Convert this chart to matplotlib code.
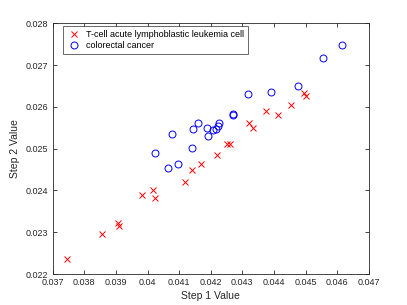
import matplotlib
matplotlib.use("Agg")
import matplotlib.pyplot as plt

plt.rcParams['font.family'] = ['Liberation Sans', 'DejaVu Sans']

red_x = [0.03744, 0.03857, 0.03908, 0.03910, 0.03984, 0.04016, 0.04024, 0.04119,
         0.04140, 0.04169, 0.04220, 0.04253, 0.04261, 0.04322, 0.04333, 0.04375,
         0.04412, 0.04453, 0.04495, 0.04502]
red_y = [0.02236, 0.02296, 0.02323, 0.02316, 0.02389, 0.02401, 0.02382, 0.02421,
         0.02450, 0.02463, 0.02484, 0.02510, 0.02510, 0.02561, 0.02550, 0.02589,
         0.02581, 0.02604, 0.02634, 0.02626]
blue_x = [0.04024, 0.04066, 0.04096, 0.04078, 0.04142, 0.04143, 0.04161, 0.04189,
          0.04192, 0.04208, 0.04216, 0.04223, 0.04227, 0.04270, 0.04271, 0.04319,
          0.04391, 0.04475, 0.04556, 0.04616]
blue_y = [0.02490, 0.02453, 0.02463, 0.02534, 0.02502, 0.02548, 0.02561, 0.02549,
          0.02531, 0.02544, 0.02546, 0.02554, 0.02561, 0.02580, 0.02583, 0.02632,
          0.02636, 0.02651, 0.02718, 0.02748]
x_ticks = [0.037, 0.038, 0.039, 0.04, 0.041, 0.042, 0.043, 0.044, 0.045, 0.046, 0.047]
x_labels = ['0.037', '0.038', '0.039', '0.04', '0.041', '0.042', '0.043', '0.044', '0.045', '0.046', '0.047']
y_ticks = [0.022, 0.023, 0.024, 0.025, 0.026, 0.027, 0.028]
y_labels = ['0.022', '0.023', '0.024', '0.025', '0.026', '0.027', '0.028']

fig = plt.figure(figsize=(4.07, 3.05), dpi=100)
ax = fig.add_axes([0.1295, 0.1016, 0.7765, 0.822])
ax.plot(red_x, red_y, 'x', color='#ff0000', markersize=4, markeredgewidth=0.7,
        label='T-cell acute lymphoblastic leukemia cell')
ax.plot(blue_x, blue_y, 'o', color='#0000ff', markerfacecolor='none', markersize=5,
        markeredgewidth=0.7, label='colorectal cancer')
ax.set_xlim(0.037, 0.047)
ax.set_ylim(0.022, 0.028)
ax.set_xticks(x_ticks)
ax.set_xticklabels(x_labels)
ax.set_yticks(y_ticks)
ax.set_yticklabels(y_labels)
ax.tick_params(direction='in', top=True, right=True, labelsize=6.5, length=3,
               width=0.6, colors='#262626', pad=3)
for s in ax.spines.values():
    s.set_color('#262626')
    s.set_linewidth(0.6)
ax.set_xlabel('Step 1 Value', fontsize=7.5, color='#262626', labelpad=3)
ax.set_ylabel('Step 2 Value', fontsize=7.5, color='#262626', labelpad=4)
leg = ax.legend(loc='upper left', bbox_to_anchor=(0.032, 0.989), fontsize=6.5,
                frameon=True, fancybox=False, edgecolor='#262626', borderaxespad=0,
                handletextpad=0.6, borderpad=0.4, labelspacing=0.3, handlelength=1.6)
leg.get_frame().set_linewidth(0.6)
fig.savefig('out.png', dpi=100)
